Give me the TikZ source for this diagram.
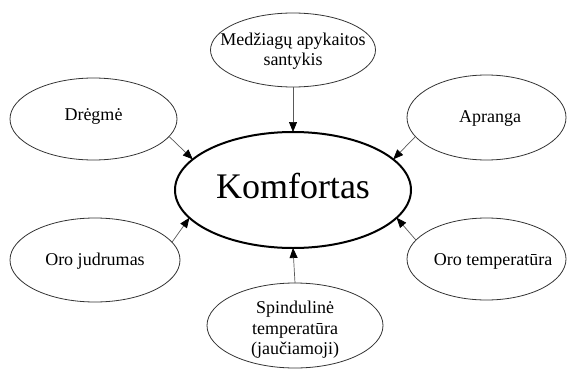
\documentclass[tikz,border=0pt]{standalone}
\usepackage{fontspec}
\setmainfont{Liberation Serif}
\usetikzlibrary{shapes.geometric,arrows.meta}
\begin{document}
\begin{tikzpicture}[x=1pt,y=-1pt,
  bubble/.style={ellipse, draw=black!80, line width=0.8pt, inner sep=0pt, outer sep=0pt},
  hub/.style={ellipse, draw=black, line width=2pt, inner sep=0pt, outer sep=0pt,
    minimum width=236pt, minimum height=116pt},
  txt/.style={align=center, inner sep=0pt, font=\fontsize{18}{20.5}\selectfont},
  bigtxt/.style={inner sep=0pt, font=\fontsize{36}{40}\selectfont},
  link/.style={draw=black!65, line width=0.7pt,
    -{Triangle[length=10pt,width=8pt,color=black]}}
]
\useasboundingbox (0,0) rectangle (567,369);

% central factor
\node[hub] (k) at (293,190) {};
\node[bigtxt] (kt) at (293,186) {Komfortas};

% surrounding factors
\node[bubble, minimum width=165pt, minimum height=74pt] (met) at (293,50) {};
\node[txt] (mett) at (293,51) {Medžiagų apykaitos\\santykis};

\node[bubble, minimum width=167pt, minimum height=82pt] (dr) at (93.5,119) {};
\node[txt] (drt) at (93.5,116) {Drėgmė};

\node[bubble, minimum width=159pt, minimum height=85pt] (ap) at (486.5,117.5) {};
\node[txt] (apt) at (490,119) {Apranga};

\node[bubble, minimum width=170pt, minimum height=84pt] (oj) at (95,260) {};
\node[txt] (ojt) at (95,261) {Oro judrumas};

\node[bubble, minimum width=159pt, minimum height=82pt] (ot) at (486.5,259) {};
\node[txt] (ott) at (493,261) {Oro temperatūra};

\node[bubble, minimum width=176pt, minimum height=85pt] (sp) at (295,325.5) {};
\node[txt] (spt) at (295,330) {Spindulinė\\temperatūra\\(jaučiamoji)};

% influences
\draw[link] (met.south) -- (k.north);
\draw[link] (sp.north) -- (k.south);
\draw[link] (dr.-13) -- (k.163.5);
\draw[link] (ap.195) -- (k.17.4);
\draw[link] (oj.13.5) -- (k.195.6);
\draw[link] (ot.165) -- (k.-15.4);
\end{tikzpicture}
\end{document}
